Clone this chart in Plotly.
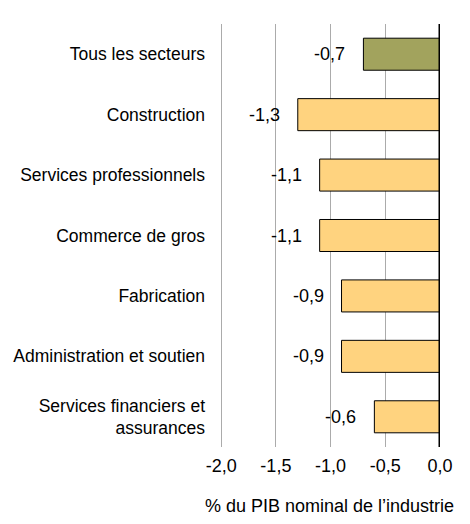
import plotly.graph_objects as go

sectors = ['Tous les secteurs', 'Construction', 'Services professionnels', 'Commerce de gros',
           'Fabrication', 'Administration et soutien', 'Services financiers et<br>assurances']
values = [-0.7, -1.3, -1.1, -1.1, -0.9, -0.9, -0.6]
labels = ['-0,7', '-1,3', '-1,1', '-1,1', '-0,9', '-0,9', '-0,6']
colors = ['#A2A35D'] + ['#FFD37F'] * 6
tick_vals = [-2.0, -1.5, -1.0, -0.5, 0.0]
tick_text = ['-2,0', '-1,5', '-1,0', '-0,5', '0,0']

font = 'Liberation Sans, Arial, sans-serif'

fig = go.Figure()
fig.add_trace(go.Bar(x=values, y=sectors, orientation='h', width=0.53,
                     marker=dict(color=colors, line=dict(color='black', width=1)),
                     hoverinfo='skip'))
# value labels sit to the left of each bar end
for s, v, t in zip(sectors, values, labels):
    fig.add_annotation(x=v, y=s, text=t, showarrow=False, xanchor='right', xshift=-16,
                       font=dict(size=18, color='black', family=font))

# range starts a little below -2 so the -2,0 gridline is still drawn
fig.update_xaxes(range=[-2.02, 0.0], tickvals=tick_vals, ticktext=tick_text, showgrid=True,
                 gridcolor='#ababab', gridwidth=1, zeroline=False, showline=False,
                 ticks='', ticklabelstandoff=6, automargin=False,
                 title=dict(text='% du PIB nominal de l’industrie', standoff=25,
                            font=dict(size=18, color='black')))
fig.update_yaxes(autorange='reversed', showgrid=False, ticks='', ticklabelstandoff=13,
                 automargin=False, tickfont=dict(size=17.5, color='black'))
fig.add_shape(type='line', xref='x', yref='paper', x0=0, x1=0, y0=0, y1=1,
              line=dict(color='black', width=3))
# page body has an 8px margin, so the figure is sized/shifted to compensate
fig.update_layout(width=454, height=508, margin=dict(l=211, r=22, t=16, b=69),
                  plot_bgcolor='white', paper_bgcolor='white',
                  showlegend=False,
                  font=dict(family=font, size=18, color='black'))
fig.write_html('out.html')
